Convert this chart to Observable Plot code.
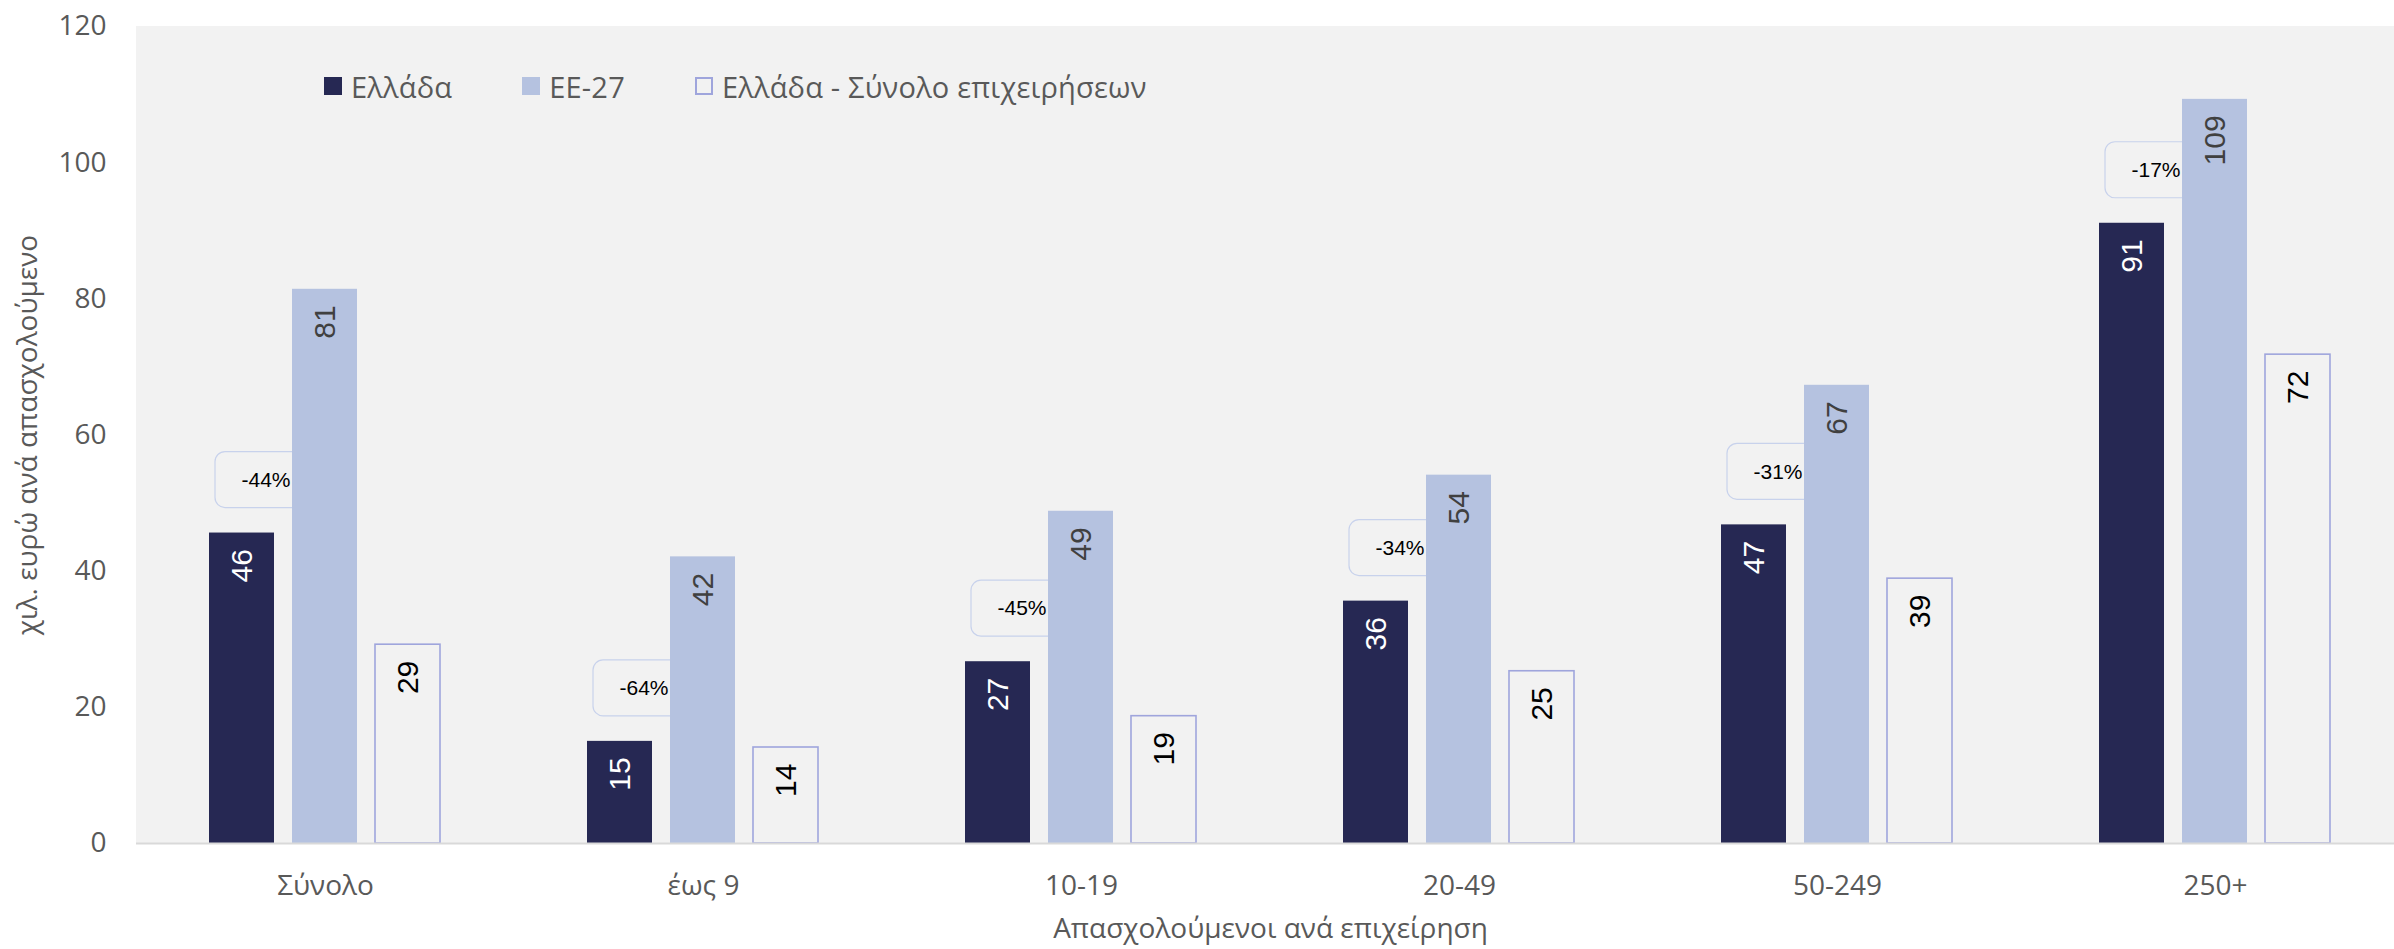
<!DOCTYPE html>
<html><head><meta charset="utf-8">
<script src="https://cdn.jsdelivr.net/npm/d3@7"></script>
<script src="https://cdn.jsdelivr.net/npm/@observablehq/plot@0.6"></script>
<style>
html,body{margin:0;padding:0;background:#fff;overflow:hidden;}
#wrap{position:relative;width:2394px;height:949px;overflow:hidden;}
#chart{position:absolute;left:0;top:0;width:2405px;}
#legend{position:absolute;left:324px;top:66px;height:40px;display:flex;align-items:center;font-family:"Open Sans",sans-serif;font-size:29px;letter-spacing:0.2px;color:#595959;white-space:nowrap;}
.item{display:flex;align-items:center;margin-right:70px;}
.sw{width:18px;height:18px;margin-right:9px;box-sizing:border-box;flex:none;}
</style></head><body>
<div id="wrap"><div id="chart"></div><div id="legend"></div></div>
<script>
// ---- data ----
const categories = ["Σύνολο", "έως 9", "10-19", "20-49", "50-249", "250+"];
const seriesNames = ["Ελλάδα", "ΕΕ-27", "Ελλάδα - Σύνολο επιχειρήσεων"];
const greece = [45.6, 15.0, 26.7, 35.6, 46.8, 91.1];
const eu27 = [81.4, 42.1, 48.8, 54.1, 67.3, 109.3];
const greeceAll = [29.2, 14.1, 18.7, 25.3, 38.9, 71.8];
const gapPct = [-44, -64, -45, -34, -31, -17];
const yTicks = [0, 20, 40, 60, 80, 100, 120];
const xTitle = "Απασχολούμενοι ανά επιχείρηση";
const yTitle = "χιλ. ευρώ ανά απασχολούμενο";

// ---- styles ----
const colors = ["#262853", "#b5c2e0", "#9fa5dc"];
const bg = "#f2f2f2";

const rows = categories.flatMap((c, i) => [
  {category: c, series: seriesNames[0], value: greece[i], gap: gapPct[i]},
  {category: c, series: seriesNames[1], value: eu27[i]},
  {category: c, series: seriesNames[2], value: greeceAll[i]}
]);
const gr = rows.filter(d => d.series === seriesNames[0]);
const eu = rows.filter(d => d.series === seriesNames[1]);
const ga = rows.filter(d => d.series === seriesNames[2]);

const base = {fx: "category", x: "series"};
const labelOpts = {
  ...base, y: "value", text: d => String(Math.round(d.value)),
  rotate: -90, textAnchor: "end", lineAnchor: "middle", dy: 16,
  fontSize: 30, fontFamily: '"Liberation Sans", Arial, sans-serif'
};

const chart = Plot.plot({
  width: 2405, height: 949,
  marginLeft: 134, marginRight: 0, marginTop: 26, marginBottom: 106,
  style: {fontFamily: '"Open Sans", sans-serif', fontSize: "28px", color: "#595959",
          background: "transparent", maxWidth: "none", overflow: "visible"},
  fx: {domain: categories, padding: 0, label: xTitle, labelAnchor: "center", labelArrow: "none",
       labelOffset: 94, tickSize: 0, tickPadding: 32},
  x: {domain: seriesNames, paddingInner: 0.2143, paddingOuter: 0.86, axis: null},
  y: {domain: [0, 120], ticks: yTicks, tickSize: 0, tickPadding: 30, tickFormat: d => String(d),
      label: yTitle, labelAnchor: "center", labelArrow: "none", labelOffset: 119},
  marks: [
    Plot.frame({fill: bg, stroke: bg, strokeWidth: 1}),
    Plot.barY(gr, {...base, y: "value", fill: colors[0]}),
    Plot.barY(gr, {...base, y1: "value", y2: "value", fill: bg, stroke: "#c8d2ec", strokeWidth: 1.2,
                   rx: 10, insetTop: -81, insetBottom: 25, insetLeft: 6, insetRight: -42}),
    Plot.barY(eu, {...base, y: "value", fill: colors[1]}),
    Plot.barY(ga, {...base, y: "value", fill: bg, stroke: colors[2], strokeWidth: 1.6}),
    Plot.ruleY([0], {stroke: "#d9d9d9", strokeWidth: 2}),
    Plot.text(gr, {...base, y: "value", text: d => d.gap + "%", dx: 24, dy: -53,
                   fontSize: 21, fill: "#000", fontFamily: '"Liberation Sans", Arial, sans-serif'}),
    Plot.text(gr, {...labelOpts, fill: "#ffffff"}),
    Plot.text(eu, {...labelOpts, fill: "#404040"}),
    Plot.text(ga, {...labelOpts, fill: "#000000"})
  ]
});
document.getElementById("chart").append(chart);

// legend
const legend = document.getElementById("legend");
seriesNames.forEach((name, i) => {
  const item = document.createElement("div");
  item.className = "item";
  const sw = document.createElement("div");
  sw.className = "sw";
  if (i < 2) sw.style.background = colors[i];
  else sw.style.border = `2px solid ${colors[2]}`;
  const t = document.createElement("span");
  t.textContent = name;
  item.append(sw, t);
  legend.append(item);
});
</script>
</body></html>
